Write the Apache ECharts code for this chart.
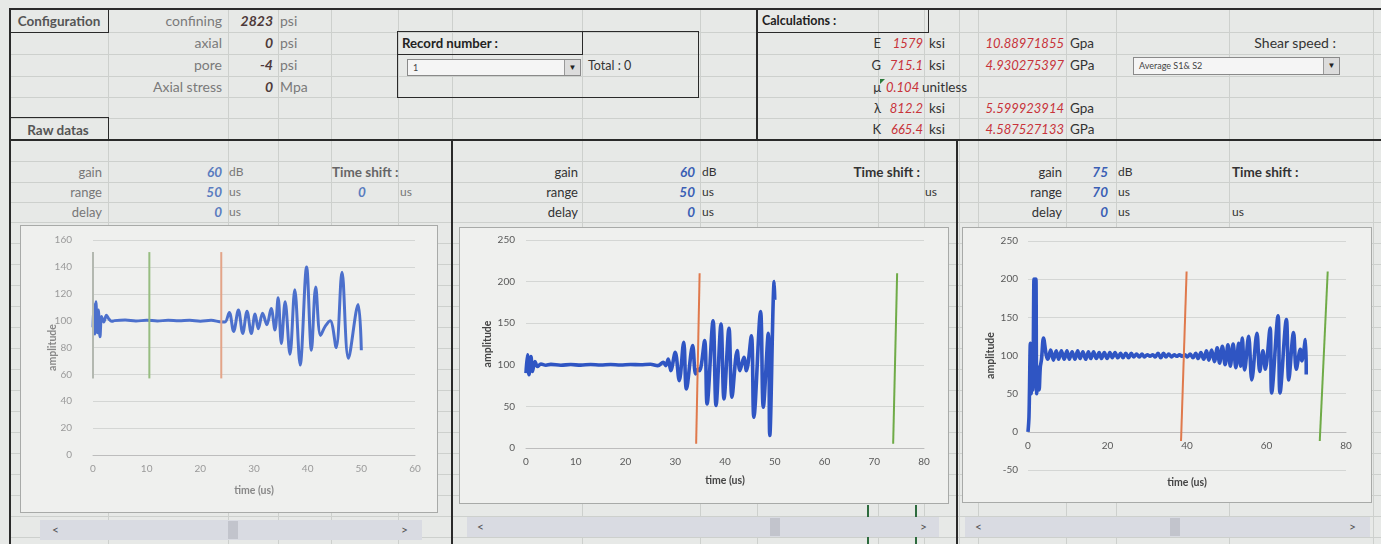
<!DOCTYPE html>
<html><head><meta charset="utf-8">
<script src="https://cdn.jsdelivr.net/npm/echarts/dist/echarts.min.js"></script>
<style>
html,body{margin:0;padding:0;}
body{width:1381px;height:544px;overflow:hidden;position:relative;background:#e7e9e7;font-family:Lato,"Noto Sans",sans-serif;}
.ln{position:absolute;background:#cdd0cd;}
.dk{position:absolute;background:#2a2a2a;}
.box{position:absolute;border:1.5px solid #2a2a2a;box-sizing:border-box;}
.tx{position:absolute;height:16px;line-height:16px;font-size:13px;white-space:nowrap;color:#333;}
.frame{position:absolute;background:#eff0ee;border:1px solid #a8aaa8;box-sizing:border-box;}
.dd{position:absolute;background:#f5f5f5;border:1px solid #8a8a8a;box-sizing:border-box;font-size:9px;color:#444;line-height:15px;padding-left:5px;}
.dd b{position:absolute;right:0;top:0;bottom:0;width:15px;background:#dcdcdc;border-left:1px solid #999;font-size:8px;text-align:center;line-height:15px;color:#222;}
.sb{position:absolute;background:#d9dbe2;height:20px;}
.sb span{position:absolute;top:2px;font-size:12px;color:#555;}
.sb i{position:absolute;top:1px;height:18px;width:10px;background:#c2c4cc;}
#chart{position:absolute;left:0;top:0;width:1381px;height:544px;}
</style></head>
<body>
<div id="sheet"></div>
<div class="frame" style="left:20px;top:225px;width:418px;height:288px"></div>
<div class="frame" style="left:459px;top:227px;width:490px;height:277px"></div>
<div class="frame" style="left:962px;top:227px;width:410px;height:276px"></div>
<div class="sb" style="left:40px;top:520px;width:382px"><span style="left:12px">&lt;</span><i style="left:188px"></i><span style="right:14px">&gt;</span></div>
<div class="sb" style="left:467px;top:517px;width:472px"><span style="left:10px">&lt;</span><i style="left:303px"></i><span style="right:12px">&gt;</span></div>
<div class="sb" style="left:965px;top:517px;width:405px"><span style="left:10px">&lt;</span><i style="left:205px"></i><span style="right:14px">&gt;</span></div>
<div id="chart"></div>
<script>
// ---------- data ----------
const configLabels = ['confining', 'axial', 'pore', 'Axial stress'];
const configValues = ['2823', '0', '-4', '0'];
const configUnits = ['psi', 'psi', 'psi', 'Mpa'];
const calcSymbols = ['E', 'G', 'μ', 'λ', 'K'];
const calcKsi = ['1579', '715.1', '0.104', '812.2', '665.4'];
const calcKsiUnits = ['ksi', 'ksi', 'unitless', 'ksi', 'ksi'];
const calcGpa = ['10.88971855', '4.930275397', '', '5.599923914', '4.587527133'];
const calcGpaUnits = ['Gpa', 'GPa', '', 'Gpa', 'GPa'];
const recordValue = '1';
const recordTotal = 'Total : 0';
const shearChoice = 'Average S1& S2';
const gains = ['60', '60', '75'];
const ranges = ['50', '50', '70'];
const delays = ['0', '0', '0'];
const timeShift1 = '0';

const xMax = [60, 80, 80];
const xStep = [10, 10, 20];
const yMin = [0, 0, -50];
const yMax = [160, 250, 250];
const yStep = [20, 50, 50];

// waveform 1 (gain 60 dB, range 50 us)
const wave1 = [[0,95],[0.15,112],[0.35,90],[0.55,114],[0.8,91],[1.0,108],[1.3,88],[1.6,103],[2.0,99],[2.5,104],[3.0,101],[3.5,99.5],[4,100],[6,100.4],[8,99.7],[10,100.3],[12,99.8],[14,100.2],[16,99.9],[18,100.3],[20,99.6],[22,100.2],[24,99],[24.6,99],
[25.4,106],[26.2,92],[27.1,108],[27.9,90.5],[28.7,107],[29.5,90.5],[30.2,105],[30.8,94],[31.6,105.5],[32.4,97],[33.2,109],[33.9,93],[34.5,117],[35.1,83],[35.8,114],[36.7,75],[37.6,123],[38.6,67],[39.8,140],[40.7,78],[41.5,125],[42.4,89],[43.3,96],[44.2,100],[45.3,80],[46.4,136],[47.6,72],[49.4,112],[50,78]];
// waveform 2 (gain 60 dB, range 50 us)
const wave2 = [[0,90],[0.3,112],[0.6,88],[1.0,110],[1.3,92],[1.8,104],[2.3,98],[3,101],[4,99.5],[5,100.5],[7,99.5],[9,100.3],[11,99.6],[13,100.4],[15,99.7],[17,100.3],[19,99.8],[21,100.4],[23,100],[25,100.6],[26.5,99],[27.6,103],[28.1,99],[28.6,107],[29.1,93],[30.0,115],[30.8,81],[31.7,127],[32.25,71],[33.5,123],[34.1,89],[34.6,95],[34.9,93],[35.9,129],[36.4,53],[37.6,153],[38.2,51],[39.2,149],[39.8,59],[40.8,144],[41.4,61],[42.45,117],[43.0,93],[43.8,109],[44.3,93],[45.3,135],[45.8,37],[47.15,164],[47.7,49],[48.7,138],[49.0,15],[49.9,200],[50,178]];
// waveform 3 (gain 75 dB, range 70 us)
const wave3 = [[0,0],[0.25,20],[0.6,116],[0.8,50],[1.0,105],[1.2,55],[1.5,200],[1.7,60],[2.0,200],[2.2,50],[2.5,85],[2.8,55],[3.1,85],[3.4,95],[3.9,123],[4.6,100],[5.0,95],[5.7,107],[6.4,94],
[7.1,106],[7.7,95],[8.4,106],[9.1,95],[9.8,106],[10.4,95],[11.1,105],[11.8,95],[12.5,106],[13.1,96],[13.8,105],[14.5,95],[15.2,105],[15.8,96],[16.5,105],[17.2,96],[17.9,104],[18.5,96],[19.2,104],[19.9,96],[20.6,104],[21.2,97],[21.9,104],[22.6,97],[23.3,103],[23.9,97],[24.6,103],[25.3,97],[26.0,103],[26.6,98],[27.3,102],[28.0,98],[28.7,102],[29.3,98],[30.0,101],[30.7,99],[31.4,101],[32.0,98],[32.7,103],[33.4,97],[34.1,103],[34.7,98],[35.4,102],[36.1,98],[36.8,101],[37.4,99],[38.1,101],[38.8,99],[39.5,101],[40.1,98],[40.8,102],[41.5,97],[42.2,103],[42.8,96],[43.5,104],[44.2,95],[44.9,106],[45.5,94],[46.2,107],[46.9,92],[47.6,110],[48.2,90],[48.9,112],[49.6,88],[50.3,114],[50.9,86],[51.6,115],[52.3,84],[53.0,116],[53.5,86],[53.9,123],[54.5,81],[55.5,125],[56.3,68],[57.6,129],[58.3,79],[59.1,106],[59.7,82],[60.9,136],[61.3,51],[62.9,152],[63.4,51],[65.0,147],[65.6,68],[66.8,130],[67.5,82],[68.5,108],[68.9,93],[69.8,121],[70,75]];

// pick markers (start point, end point)
const picks1 = {gray: [[0,57],[0,151]], green: [[10.5,57],[10.5,151]], orange: [[23.9,57],[23.9,151]]};
const picks2 = {orange: [[34.2,5],[34.9,210]], green: [[73.8,5],[74.6,210]]};
const picks3 = {orange: [[38.5,-12],[39.9,210]], green: [[73.4,-12],[75.4,210]]};

// ---------- sheet ----------
const sheet = document.getElementById('sheet');
function el(cls, css, html){const d=document.createElement('div');d.className=cls;d.style.cssText=css;if(html!==undefined)d.innerHTML=html;sheet.appendChild(d);return d;}
const rowLines=[32,54,76,97,118,161,182,202,222,243,264,285,306,327,348,369,390,411,432,453,474,495,516,537];
const colLines=[108,228,278,331,398,452,582,700,757,878,924,959,978,1066,1116,1229,1373];
rowLines.forEach(y=>el('ln',`left:10px;top:${y}px;width:1371px;height:1px`));
colLines.forEach(x=>el('ln',`left:${x}px;top:9px;width:1px;height:535px`));
el('dk','left:10px;top:8px;width:1371px;height:2px');
el('dk','left:10px;top:139px;width:1371px;height:2px');
el('dk','left:9px;top:8px;width:2px;height:536px');
el('dk','left:451px;top:139px;width:2px;height:405px');
el('dk','left:956px;top:139px;width:2px;height:405px');
el('dk','left:756px;top:8px;width:2px;height:132px');
el('box','left:9px;top:8px;width:100px;height:25px');
el('box','left:9px;top:117px;width:100px;height:24px');
el('box','left:397px;top:31px;width:302px;height:67px');
el('box','left:397px;top:31px;width:186px;height:24px');
el('box','left:756px;top:8px;width:173px;height:25px');
el('dk','left:867px;top:505px;width:2px;height:39px;background:#2d6b3e');
el('dk','left:915px;top:505px;width:2px;height:39px;background:#2d6b3e');

function T(x, cy, s, o){
  o=o||{};
  const a=o.a||'l';
  let css=`top:${cy-8}px;`;
  if(a==='l') css+=`left:${x}px;`;
  else if(a==='r') css+=`left:${x-300}px;width:300px;text-align:right;`;
  else css+=`left:${x-150}px;width:300px;text-align:center;`;
  if(o.c) css+=`color:${o.c};`;
  if(o.b) css+='font-weight:700;';
  if(o.i) css+='font-style:italic;';
  if(o.f) css+=`font-size:${o.f}px;`;
  el('tx',css).textContent=s;
}
const rowY=[21,43,65,87,108,129];
T(59,21,'Configuration',{a:'c',b:1,c:'#555',f:13.5});
T(58,130,'Raw datas',{a:'c',b:1,c:'#555',f:13.5});
configLabels.forEach((s,i)=>{
  T(222,rowY[i],s,{a:'r',c:'#7a7a7a',f:14});
  T(273,rowY[i],configValues[i],{a:'r',c:'#4e3a3a',i:1,b:1,f:14});
  T(280,rowY[i],configUnits[i],{c:'#7a7a7a',f:14});
});
T(402,43,'Record number :',{b:1,c:'#222',f:13.2});
el('dd','left:407px;top:59px;width:174px;height:17px',recordValue+'<b>&#9660;</b>');
T(588,66,recordTotal,{c:'#333',f:12.5});
T(762,21,'Calculations :',{b:1,c:'#222',f:12.5});
calcSymbols.forEach((s,i)=>{
  const y=rowY[i+1];
  T(881,y,s,{a:'r',c:'#333'});
  if(s==='μ'){
    T(886,y,calcKsi[i],{c:'#c8333a',i:1});
    T(922,y,calcKsiUnits[i],{c:'#333',f:13.5});
  } else {
    T(923,y,calcKsi[i],{a:'r',c:'#c8333a',i:1});
    T(929,y,calcKsiUnits[i],{c:'#333',f:13.5});
  }
  if(calcGpa[i]){
    T(1064,y,calcGpa[i],{a:'r',c:'#c8333a',i:1});
    T(1070,y,calcGpaUnits[i],{c:'#333',f:13.5});
  }
});
el('ln','left:880px;top:79px;width:0;height:0;border-left:5px solid #2a7a3a;border-bottom:5px solid transparent;background:none');
T(1336,43,'Shear speed :',{a:'r',c:'#333',f:14});
el('dd','left:1133px;top:57px;width:207px;height:18px',shearChoice+'<b>&#9660;</b>');

const secs=[{lab:102,val:222,unit:229,ts:332,tsA:'l',tsU:[400,192],c:'#777',vc:'#5a7cbf'},
            {lab:578,val:695,unit:702,ts:920,tsA:'r',tsU:[925,192],c:'#333',vc:'#3a5fb5'},
            {lab:1062,val:1108,unit:1118,ts:1232,tsA:'l',tsU:[1232,212],c:'#333',vc:'#3a5fb5'}];
const gy=[172,192,212];
secs.forEach((s,k)=>{
  const vals=[gains[k],ranges[k],delays[k]];
  const units=['dB','us','us'];
  ['gain','range','delay'].forEach((lab,j)=>{
    T(s.lab,gy[j],lab,{a:'r',c:s.c});
    T(s.val,gy[j],vals[j],{a:'r',c:s.vc,i:1,b:1,f:13.5});
    T(s.unit,gy[j],units[j],{c:s.c,f:12});
  });
  T(s.ts,172,'Time shift :',{a:s.tsA,b:1,c:k===0?'#666':'#333',f:13.5});
  T(s.tsU[0],s.tsU[1],'us',{c:s.c,f:12});
});
T(362,192,timeShift1,{a:'c',c:'#5a7cbf',i:1,b:1,f:13.5});

// ---------- charts ----------
const chart = echarts.init(document.getElementById('chart'));
const grids=[{left:93,top:240,width:322,height:215},{left:526,top:240,width:398,height:208},{left:1028,top:241,width:318,height:229}];
const faded=[true,false,false];
const xAxes=[],yAxes=[],series=[];
const nameGapX=[30,27,45], nameGapY=[35,33,32], ylMargin=[21,11,10];
[0,1,2].forEach(i=>{
  const lc=faded[i]?'#9a9a9a':'#595959';
  // the time axis crosses the amplitude axis at amplitude 0
  const zeroOffset=-grids[i].height*(0-yMin[i])/(yMax[i]-yMin[i]);
  xAxes.push({type:'value',gridIndex:i,min:0,max:xMax[i],interval:xStep[i],position:'bottom',offset:zeroOffset,
    axisLine:{show:true,onZero:false,lineStyle:{color:'#bdbdbd',width:1}},axisTick:{show:false},splitLine:{show:false},
    axisLabel:{color:lc,fontSize:10,margin:9,fontFamily:'Lato'},
    name:'time (us)',nameLocation:'middle',nameGap:nameGapX[i],nameMoveOverlap:false,
    nameTextStyle:{color:faded[i]?'#888':'#444',fontWeight:'bold',fontSize:10.5,fontFamily:'Lato'}});
  yAxes.push({type:'value',gridIndex:i,min:yMin[i],max:yMax[i],interval:yStep[i],
    axisLine:{show:false,onZero:false},axisTick:{show:false},
    splitLine:{show:true,lineStyle:{color:'#d4d6d4',width:1}},
    axisLabel:{color:lc,fontSize:10,margin:ylMargin[i],fontFamily:'Lato'},
    name:'amplitude',nameLocation:'middle',nameGap:nameGapY[i],nameRotate:90,nameMoveOverlap:false,
    nameTextStyle:{color:faded[i]?'#888':'#444',fontWeight:'bold',fontSize:10.5,fontFamily:'Lato'}});
});
const waves=[wave1,wave2,wave3];
const blue=['#4c70cc','#2f55c3','#2f55c3'];
waves.forEach((w,i)=>series.push({type:'line',xAxisIndex:i,yAxisIndex:i,data:w,showSymbol:false,smooth:0.35,
  lineStyle:{color:blue[i],width:i===0?3:3.6},z:2}));
const pickColors={gray:'#b0b4ae',green:'#6fab47',orange:'#e0794c'};
const pickFaded={gray:'#b3b8b0',green:'#97bd80',orange:'#e3a488'};
[picks1,picks2,picks3].forEach((p,i)=>{
  Object.keys(p).forEach(k=>series.push({type:'line',xAxisIndex:i,yAxisIndex:i,data:p[k],showSymbol:false,
    lineStyle:{color:i===0?pickFaded[k]:pickColors[k],width:2},z:3}));
});
chart.setOption({animation:false,backgroundColor:'transparent',grid:grids,xAxis:xAxes,yAxis:yAxes,series:series});
</script>
</body></html>
